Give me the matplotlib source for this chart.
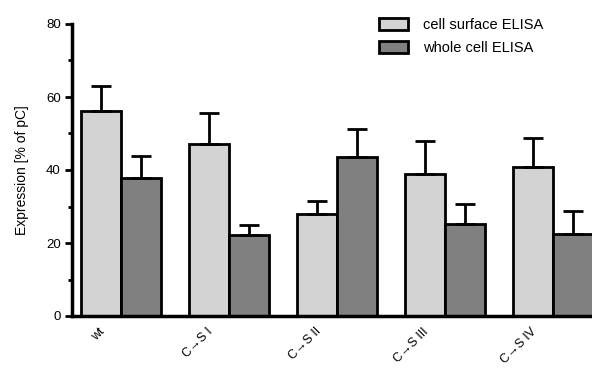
import numpy as np
import matplotlib.pyplot as plt
import matplotlib.transforms as mtransforms
from matplotlib.patches import Patch

plt.rcParams['font.family'] = ['Liberation Sans', 'DejaVu Sans']

# 数据
groups = ['wt', 'C→S I', 'C→S II', 'C→S III', 'C→S IV']
surface = [56.2, 47.1, 27.9, 38.9, 40.8]
surface_err = [6.8, 8.6, 3.7, 9.0, 8.0]
whole = [37.7, 22.1, 43.5, 25.2, 22.5]
whole_err = [6.0, 2.8, 7.7, 5.5, 6.3]

fig = plt.figure(figsize=(5.92, 3.71), dpi=100)
ax = fig.add_axes([72 / 592, 55 / 371, 524 / 592, 292 / 371])

x = np.arange(len(groups))
w = 0.37
err_kw = dict(elinewidth=2, capthick=2, capsize=7, ecolor='black')
ax.bar(x - w / 2, surface, w, color='#d3d3d3', edgecolor='black', linewidth=2,
       yerr=[np.zeros(len(x)), surface_err], error_kw=err_kw, label='cell surface ELISA')
ax.bar(x + w / 2, whole, w, color='#808080', edgecolor='black', linewidth=2,
       yerr=[np.zeros(len(x)), whole_err], error_kw=err_kw, label='whole cell ELISA')

ax.set_xlim(-0.453, 4.40)
ax.set_ylim(0, 80)
ax.set_yticks([0, 20, 40, 60, 80])
ax.set_yticks([10, 30, 50, 70], minor=True)
ax.tick_params(axis='y', which='major', length=5, width=2, labelsize=9.5, pad=3)
ax.tick_params(axis='y', which='minor', length=3, width=2)
ax.set_xticks(x)
ax.set_xticklabels(groups, rotation=45, ha='right', va='top', rotation_mode='anchor', fontsize=9)
ax.tick_params(axis='x', length=0, pad=7)
# 标签整体左移
offset = mtransforms.ScaledTranslation(-22 / 100, 0, fig.dpi_scale_trans)
for lab in ax.get_xticklabels():
    lab.set_transform(lab.get_transform() + offset)
for s in ['top', 'right']:
    ax.spines[s].set_visible(False)
for s in ['left', 'bottom']:
    ax.spines[s].set_linewidth(2.5)
ax.set_ylabel('Expression [% of pC]', fontsize=10, labelpad=12)

handles = [Patch(facecolor='#d3d3d3', edgecolor='black', linewidth=2),
           Patch(facecolor='#808080', edgecolor='black', linewidth=2)]
fig.legend(handles, ['cell surface ELISA', 'whole cell ELISA'],
           loc='upper left', bbox_to_anchor=(366 / 592, 1 - 5 / 371), frameon=False,
           fontsize=10.5, handlelength=2.0, handleheight=0.9, labelspacing=0.6, handletextpad=1.0)

plt.savefig('out.png')
